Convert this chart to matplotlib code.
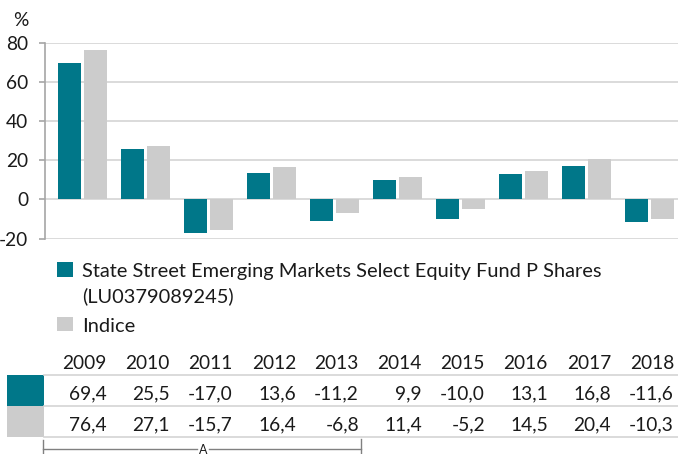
import matplotlib
matplotlib.use("Agg")
import matplotlib.pyplot as plt
from matplotlib.patches import Rectangle
from matplotlib.lines import Line2D
import matplotlib.transforms as mtransforms

years = ["2009", "2010", "2011", "2012", "2013", "2014", "2015", "2016", "2017", "2018"]
fund = [69.4, 25.5, -17.0, 13.6, -11.2, 9.9, -10.0, 13.1, 16.8, -11.6]
index = [76.4, 27.1, -15.7, 16.4, -6.8, 11.4, -5.2, 14.5, 20.4, -10.3]
fund_label_1 = "State Street Emerging Markets Select Equity Fund P Shares"
fund_label_2 = "(LU0379089245)"
index_label = "Indice"
yticks = [-20, 0, 20, 40, 60, 80]

TEAL = "#007789"
GREY = "#cccccc"
GRID = "#d4d4d4"
AXC = "#a6a6a6"
TXT = "#1a1a1a"
FONT = "Lato"
FS = 13.8
LFS = 14.4

W, H = 678, 454
fig = plt.figure(figsize=(W / 100, H / 100), dpi=100)

def fx(px):
    return px / W

def fy(py):
    return 1 - py / H

ax = fig.add_axes([fx(45), fy(238.5), fx(633), (238.5 - 42.5) / H])
x = list(range(len(years)))
bw = 0.365
off = 0.206
ax.bar([i - off for i in x], fund, width=bw, color=TEAL, zorder=3)
ax.bar([i + off for i in x], index, width=bw, color=GREY, zorder=3)
ax.set_xlim(-0.595, 9.452)
ax.set_ylim(-20, 80)
ax.set_yticks(yticks)
ax.set_yticklabels([str(v) for v in yticks], fontsize=FS, family=FONT, color=TXT)
ax.set_xticks([])
for s in ["top", "right", "bottom"]:
    ax.spines[s].set_visible(False)
ax.spines["left"].set_color(AXC)
ax.spines["left"].set_linewidth(1.2)
ax.tick_params(axis="y", length=4, width=1.2, color=AXC, pad=8)
ax.grid(axis="y", color=GRID, linewidth=1.2, zorder=0)
ax.set_axisbelow(True)

fig.text(fx(13), fy(21), "%", fontsize=FS, family=FONT, va="center", ha="left", color=TXT)

# legend
fig.patches.append(Rectangle((fx(57), fy(277)), fx(15.5), 15 / H, transform=fig.transFigure,
                             facecolor=TEAL, edgecolor="none"))
fig.text(fx(82), fy(277), fund_label_1, fontsize=LFS, family=FONT, va="baseline", ha="left", color=TXT)
fig.text(fx(82), fy(302), fund_label_2, fontsize=LFS, family=FONT, va="baseline", ha="left", color=TXT)
fig.patches.append(Rectangle((fx(57), fy(331)), fx(15.5), 14.5 / H, transform=fig.transFigure,
                             facecolor=GREY, edgecolor="none"))
fig.text(fx(82), fy(332), index_label, fontsize=LFS, family=FONT, va="baseline", ha="left", color=TXT)

# data table
trans = mtransforms.blended_transform_factory(ax.transData, fig.transFigure)
for i, yr in enumerate(years):
    xr = i + off + bw / 2
    fig.text(xr, fy(369), yr, transform=trans, fontsize=FS, family=FONT, ha="right",
             va="baseline", color=TXT)
    fig.text(xr, fy(399), f"{fund[i]:.1f}".replace(".", ","), transform=trans, fontsize=FS,
             family=FONT, ha="right", va="baseline", color=TXT)
    fig.text(xr, fy(430), f"{index[i]:.1f}".replace(".", ","), transform=trans, fontsize=FS,
             family=FONT, ha="right", va="baseline", color=TXT)

for yy in [375, 406, 437]:
    fig.lines.append(Line2D([fx(44), 1], [fy(yy), fy(yy)], transform=fig.transFigure,
                            color=GRID, linewidth=1.2))
fig.patches.append(Rectangle((fx(7), fy(405.5)), fx(37), 30.5 / H, transform=fig.transFigure,
                             facecolor=TEAL, edgecolor="none"))
fig.patches.append(Rectangle((fx(7), fy(436.5)), fx(37), 30.5 / H, transform=fig.transFigure,
                             facecolor=GREY, edgecolor="none"))

# bracket "A"
BC = "#808080"
fig.lines.append(Line2D([fx(43), fx(197)], [fy(449), fy(449)], transform=fig.transFigure, color=BC, lw=1))
fig.lines.append(Line2D([fx(209), fx(361)], [fy(449), fy(449)], transform=fig.transFigure, color=BC, lw=1))
fig.lines.append(Line2D([fx(43), fx(43)], [fy(440), fy(454)], transform=fig.transFigure, color=BC, lw=1))
fig.lines.append(Line2D([fx(361), fx(361)], [fy(439), fy(454)], transform=fig.transFigure, color=BC, lw=1))
fig.text(fx(203), fy(453.5), "A", fontsize=9, family=FONT, ha="center", va="baseline", color=TXT)

fig.savefig("out.png", dpi=100)
